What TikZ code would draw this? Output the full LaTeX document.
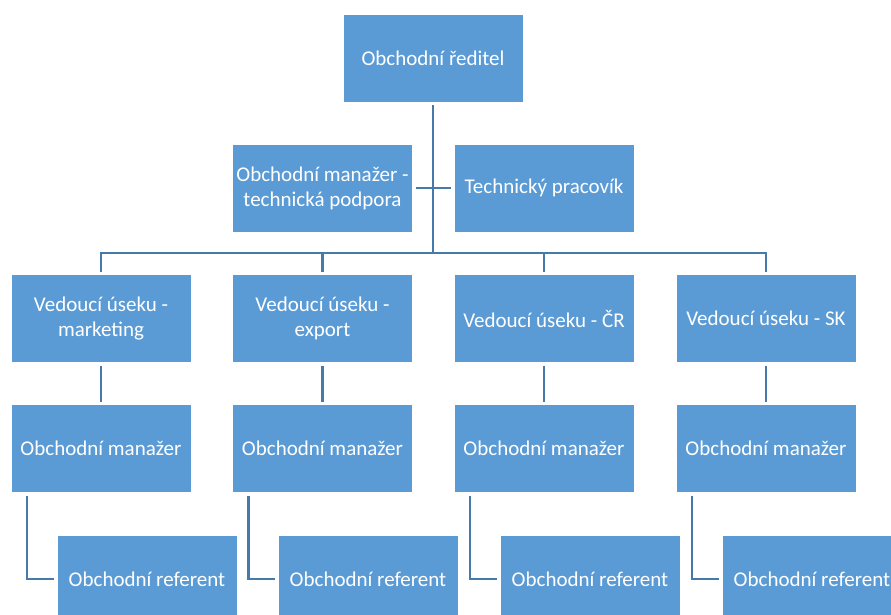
\documentclass[tikz,border=0pt]{standalone}
\usepackage{fontspec}
\setmainfont{Carlito}
\usepackage{tikz}

\definecolor{boxblue}{HTML}{5B9BD5}
\definecolor{linkblue}{HTML}{467AAB}

\tikzset{
    orgbox/.style={fill=boxblue, draw=white, line width=0.6pt, text=white, align=center,
        minimum width=180, minimum height=88, inner sep=0pt, outer sep=3pt,
        font=\fontsize{21}{25}\selectfont},
    orglink/.style={draw=linkblue, line width=2.8pt}
}

\begin{document}
\begin{tikzpicture}[x=1pt, y=-1pt]
            \useasboundingbox (0,0) rectangle (891,614);
            \clip (0,0) rectangle (891,614);

            %Top
            \node[orgbox] (ceo) at (433,58) {Obchodní ředitel};
            \node[orgbox] (assist) at (322.5,188) {Obchodní manažer -\\technická podpora};
            \node[orgbox] (tech) at (544,188) {Technický pracovík};

            %Heads of sections
            \node[orgbox] (head1) at (101,318.5) {Vedoucí úseku -\\marketing};
            \node[orgbox] (head2) at (322.5,318.5) {Vedoucí úseku -\\export};
            \node[orgbox] (head3) at (544,318.5) {Vedoucí úseku - ČR};
            \node[orgbox] (head4) at (766,318.5) {Vedoucí úseku - SK};

            %Managers
            \node[orgbox] (mgr1) at (101,448.5) {Obchodní manažer};
            \node[orgbox] (mgr2) at (322.5,448.5) {Obchodní manažer};
            \node[orgbox] (mgr3) at (544,448.5) {Obchodní manažer};
            \node[orgbox] (mgr4) at (766,448.5) {Obchodní manažer};

            %Referents
            \node[orgbox] (ref1) at (147,579) {Obchodní referent};
            \node[orgbox] (ref2) at (368,579) {Obchodní referent};
            \node[orgbox] (ref3) at (590,579) {Obchodní referent};
            \node[orgbox] (ref4) at (812,579) {Obchodní referent};

            %Links
            \coordinate (bus) at (433,253);
            \draw[orglink] (ceo.south) -- (bus);
            \draw[orglink] (assist.east) -- (tech.west);
            \foreach \i in {1,...,4} {
                \draw[orglink] (bus) -| (head\i.north);
                \draw[orglink] (head\i) -- (mgr\i);
                \draw[orglink] (mgr\i.south west) ++(19,0) |- (ref\i.west);
            }
        \end{tikzpicture}
\end{document}
